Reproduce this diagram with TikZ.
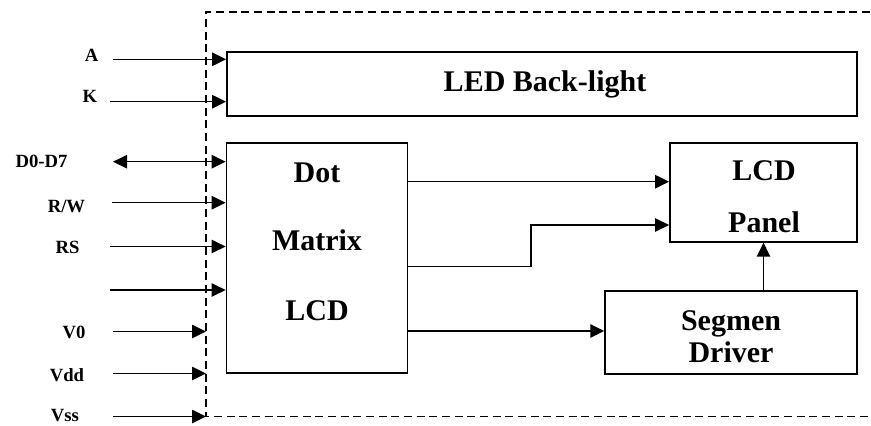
\documentclass[tikz,border=0pt]{standalone}
\usepackage{fontspec}
\setmainfont{Liberation Serif}
\usetikzlibrary{arrows.meta}

\tikzset{
  blk/.style={draw, line width=1.3pt, inner sep=0pt},
  bigtxt/.style={anchor=base, inner sep=0.75pt, font=\fontsize{22.5}{26}\selectfont\bfseries},
  pintxt/.style={anchor=base, inner sep=0.75pt, font=\fontsize{14}{16}\selectfont\bfseries},
  sig/.style={line width=1.15pt, -{Triangle[length=10.5pt,width=10pt]}},
  bisig/.style={line width=1.15pt, {Triangle[length=10.5pt,width=10pt]}-{Triangle[length=10.5pt,width=10pt]}},
}

\begin{document}
\begin{tikzpicture}[x=0.75pt,y=0.75pt,yscale=-1,xscale=1]
\useasboundingbox (0,0) rectangle (871,425);

%Shape: Dashed frame
\coordinate (frm) at (206,11.7);
\draw [line width=1.3pt, dash pattern=on 6pt off 3.5pt] (870,11.7) -- (frm) -- (206,416.5) -- (870,416.5);

%Shape: Rectangle
\node [blk, minimum width=472.5pt, minimum height=48pt] (led) at (542,84) {};
%Shape: Rectangle
\node [blk, minimum width=135.75pt, minimum height=172.5pt] (dot) at (317,258.3) {};
%Shape: Rectangle
\node [blk, minimum width=140.25pt, minimum height=73.9pt] (panel) at (763.5,192.5) {};
%Shape: Rectangle
\node [blk, minimum width=188.8pt, minimum height=62.5pt] (seg) at (731,332.5) {};

% Text Node
\node [bigtxt] (ledtxt) at (545,91.7) {LED Back-light};
% Text Node
\node [bigtxt] (dot1) at (317,182) {Dot};
\node [bigtxt] (dot2) at (317,250) {Matrix};
\node [bigtxt] (dot3) at (317,320) {LCD};
% Text Node
\node [bigtxt] (pan1) at (764,180) {LCD};
\node [bigtxt] (pan2) at (764,232) {Panel};
% Text Node
\node [bigtxt] (seg1) at (731,330) {Segmen};
\node [bigtxt] (seg2) at (731,362) {Driver};

% Text Node
\node [pintxt] (la) at (91.5,61) {A};
\node [pintxt] (lk) at (90,102) {K};
\node [pintxt] (ld) at (41.5,167) {D0-D7};
\node [pintxt] (lrw) at (66.5,212) {R/W};
\node [pintxt] (lrs) at (67.5,253) {RS};
\node [pintxt] (lv0) at (74,338) {V0};
\node [pintxt] (lvdd) at (67,381.5) {Vdd};
\node [pintxt] (lvss) at (65,421.5) {Vss};

%Straight Lines
\coordinate (pa) at (113,59.3);
\coordinate (pk) at (110,101.7);
\coordinate (pd) at (113,161.7);
\coordinate (prw) at (112,202.7);
\coordinate (prs) at (110,246.5);
\coordinate (pe) at (110,290);
\coordinate (pv0) at (113,331.5);
\coordinate (pvdd) at (113,373.5);
\coordinate (pvss) at (113,416.5);
\draw [sig] (pa) -- (pa -| led.west);
\draw [sig] (pk) -- (pk -| led.west);
\draw [bisig] (pd) -- (pd -| dot.west);
\draw [sig] (prw) -- (prw -| dot.west);
\draw [sig] (prs) -- (prs -| dot.west);
\draw [sig] (pe) -- (pe -| dot.west);
\draw [sig] (pv0) -- (pv0 -| frm);
\draw [sig] (pvdd) -- (pvdd -| frm);
\draw [sig] (pvss) -- (pvss -| frm);

%Straight Lines
\coordinate (o1) at (407.3,181.7);
\coordinate (o2) at (407.3,266.7);
\coordinate (o2k) at (531,225);
\coordinate (o3) at (407.3,331);
\draw [sig] (o1) -- (o1 -| panel.west);
\draw [sig] (o2) -| (o2k) -- (o2k -| panel.west);
\draw [sig] (o3) -- (o3 -| seg.west);
\draw [sig] (panel.south |- seg.north) -- (panel.south);

\end{tikzpicture}
\end{document}
